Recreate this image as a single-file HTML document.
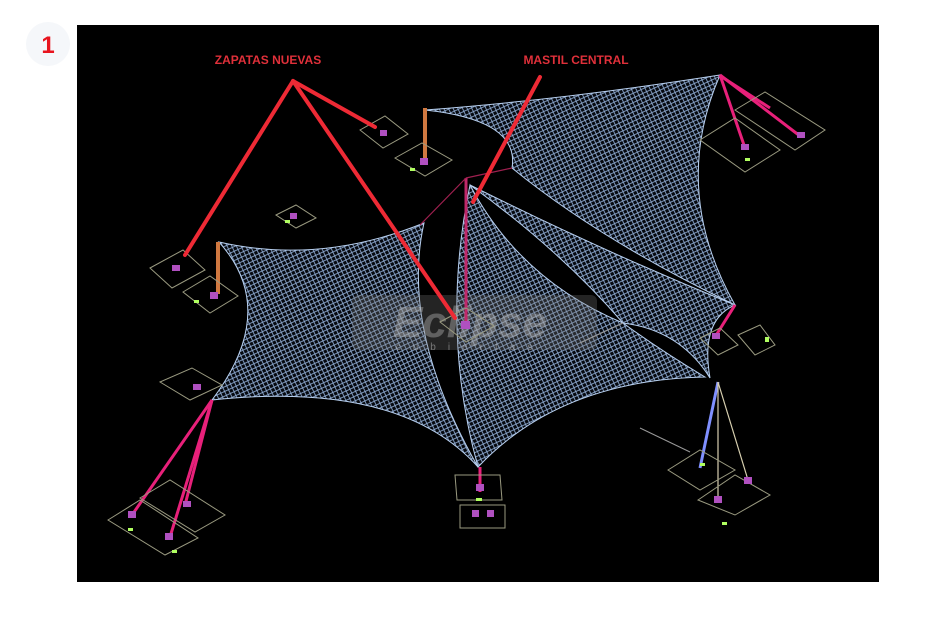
<!DOCTYPE html>
<html><head><meta charset="utf-8"><style>
html,body{margin:0;padding:0;background:#fff;width:950px;height:617px;overflow:hidden}
</style></head><body>
<svg width="950" height="617" viewBox="0 0 950 617" xmlns="http://www.w3.org/2000/svg">
<defs>
<pattern id="m" width="6" height="6" patternUnits="userSpaceOnUse" patternTransform="rotate(20)">
<rect width="6" height="6" fill="#05080e"/>
<path d="M0 0L6 6M6 0L0 6" stroke="#93b0d8" stroke-width="0.8"/>
</pattern>
</defs>
<circle cx="48" cy="44" r="22" fill="#f5f7fa"/>
<text x="48" y="53" font-family="Liberation Sans, sans-serif" font-size="24" font-weight="bold" fill="#e8141e" text-anchor="middle">1</text>
<rect x="77" y="25" width="802" height="557" fill="#000"/>

<!-- sails -->
<path d="M425,110 Q560,100 720,75 Q670,190 735,305 Q600,240 512,168 Q520,120 425,110Z" fill="url(#m)" stroke="#b8d0f0" stroke-width="1"/>
<path d="M470,185 Q600,250 735,305 Q700,320 710,378 Q680,330 623,323 Q560,250 470,185Z" fill="url(#m)" stroke="#b8d0f0" stroke-width="1"/>
<path d="M470,185 Q520,280 623,323 Q660,350 705,377 Q560,380 478,467 Q440,330 470,185Z" fill="url(#m)" stroke="#b8d0f0" stroke-width="1"/>
<path d="M219,242 Q320,265 424,223 Q400,330 478,467 Q400,380 212,400 Q280,310 219,242Z" fill="url(#m)" stroke="#b8d0f0" stroke-width="1"/>

<!-- watermark -->
<rect x="352" y="295" width="245" height="55" rx="6" fill="#777" opacity="0.3"/>
<text x="470" y="337" font-family="Liberation Sans, sans-serif" font-size="44" font-weight="bold" font-style="italic" fill="#bbb" opacity="0.4" text-anchor="middle">Eclipse</text>
<text x="470" y="350" font-family="Liberation Sans, sans-serif" font-size="10" fill="#ccc" opacity="0.5" text-anchor="middle" letter-spacing="12">cubiertas</text>

<!-- masts / cables -->
<line x1="466" y1="178" x2="466" y2="325" stroke="#c0286a" stroke-width="3"/>
<line x1="466" y1="178" x2="420" y2="225" stroke="#a02050" stroke-width="1.2"/>
<line x1="466" y1="178" x2="512" y2="168" stroke="#a02050" stroke-width="1.2"/>
<rect x="423" y="108" width="4" height="52" fill="#d07840"/>
<rect x="216" y="242" width="4" height="52" fill="#d07840"/>
<g stroke="#e8207a" stroke-width="3">
<line x1="720" y1="75" x2="745" y2="148"/><line x1="720" y1="75" x2="800" y2="136"/><line x1="722" y1="77" x2="770" y2="108"/>
<line x1="212" y1="400" x2="132" y2="515"/><line x1="212" y1="400" x2="170" y2="537"/><line x1="212" y1="400" x2="185" y2="505"/>
<line x1="735" y1="305" x2="715" y2="337"/><line x1="480" y1="467" x2="480" y2="492"/>
</g>
<line x1="718" y1="382" x2="700" y2="468" stroke="#8090ff" stroke-width="3"/>
<g stroke="#d8d0b0" stroke-width="1.2"><line x1="718" y1="382" x2="718" y2="500"/><line x1="718" y1="382" x2="748" y2="480"/></g>
<line x1="640" y1="428" x2="690" y2="452" stroke="#999" stroke-width="1"/>
<line x1="623" y1="323" x2="580" y2="343" stroke="#999" stroke-width="1"/>

<!-- footings -->
<g fill="none" stroke="#9a9a80" stroke-width="1">
<polygon points="150,268 183,250 205,270 172,288"/>
<polygon points="183,292 210,276 238,296 210,313"/>
<polygon points="276,215 296,205 316,218 296,228"/>
<polygon points="360,130 385,116 408,134 383,148"/>
<polygon points="395,158 422,143 452,160 425,176"/>
<polygon points="440,322 466,308 494,326 466,342"/>
<polygon points="160,382 192,368 222,385 190,400"/>
<polygon points="108,520 140,500 198,538 165,555"/>
<polygon points="140,498 170,480 225,515 195,532"/>
<polygon points="700,140 735,118 780,150 745,172"/>
<polygon points="735,110 765,92 825,130 795,150"/>
<polygon points="700,338 720,328 738,345 718,355"/>
<polygon points="738,335 760,325 775,345 755,355"/>
<polygon points="455,475 500,475 502,500 457,500"/>
<polygon points="460,505 505,505 505,528 460,528"/>
<polygon points="668,470 700,450 735,470 700,490"/>
<polygon points="698,500 735,475 770,495 735,515"/>
</g>
<g fill="#b050c0">
<rect x="172" y="265" width="8" height="6"/><rect x="210" y="292" width="8" height="7"/><rect x="290" y="213" width="7" height="6"/>
<rect x="380" y="130" width="7" height="6"/><rect x="420" y="158" width="8" height="7"/><rect x="461" y="321" width="9" height="8"/>
<rect x="193" y="384" width="8" height="6"/><rect x="128" y="511" width="8" height="7"/><rect x="165" y="533" width="8" height="7"/>
<rect x="183" y="501" width="8" height="6"/><rect x="741" y="144" width="8" height="6"/><rect x="797" y="132" width="8" height="6"/>
<rect x="476" y="484" width="8" height="7"/><rect x="472" y="510" width="7" height="7"/><rect x="487" y="510" width="7" height="7"/>
<rect x="714" y="496" width="8" height="7"/><rect x="744" y="477" width="8" height="7"/><rect x="712" y="333" width="8" height="6"/>
</g>
<g fill="#b0ff60">
<rect x="194" y="300" width="5" height="3"/><rect x="285" y="220" width="5" height="3"/><rect x="410" y="168" width="5" height="3"/>
<rect x="172" y="550" width="5" height="3"/><rect x="128" y="528" width="5" height="3"/><rect x="745" y="158" width="5" height="3"/>
<rect x="700" y="463" width="5" height="3"/><rect x="722" y="522" width="5" height="3"/><rect x="765" y="337" width="4" height="5"/>
<rect x="476" y="498" width="6" height="3"/>
</g>

<!-- red annotation lines -->
<g stroke="#ee2a35" stroke-width="4" stroke-linecap="round">
<line x1="293" y1="81" x2="185" y2="255"/>
<line x1="293" y1="81" x2="375" y2="127"/>
<line x1="293" y1="81" x2="455" y2="318"/>
<line x1="540" y1="77" x2="473" y2="202"/>
</g>
<text x="268" y="64" font-family="Liberation Sans, sans-serif" font-size="12" font-weight="bold" fill="#e0303a" text-anchor="middle">ZAPATAS NUEVAS</text>
<text x="576" y="64" font-family="Liberation Sans, sans-serif" font-size="12" font-weight="bold" fill="#e0303a" text-anchor="middle">MASTIL CENTRAL</text>
</svg>
</body></html>
